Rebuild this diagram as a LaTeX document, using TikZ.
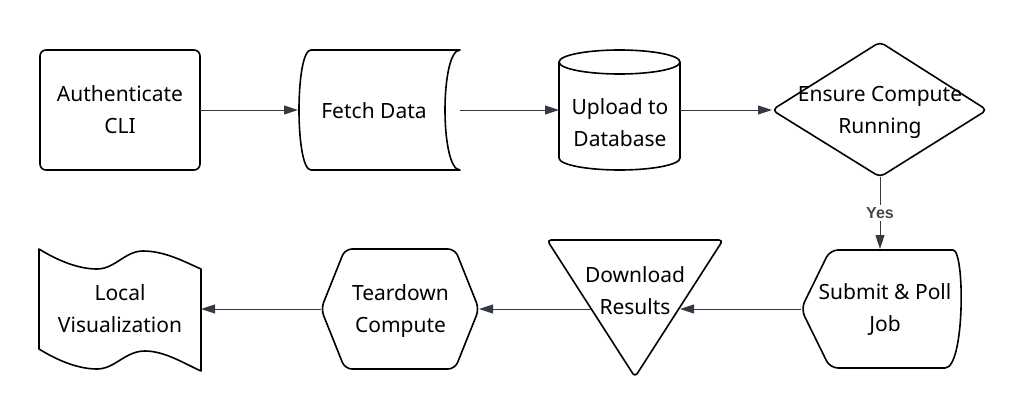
\documentclass[tikz,border=0pt]{standalone}
\usepackage{fontspec}
\setmainfont{Noto Sans}
\newfontfamily\yesfont{Liberation Sans Bold}
\usetikzlibrary{arrows.meta}
\definecolor{edgecol}{RGB}{52,58,68}
\definecolor{lblcol}{RGB}{70,74,80}
\tikzset{
  shapeline/.style={draw=black, line width=1.6pt, line join=round},
  conn/.style={draw=edgecol, line width=1pt, -{Triangle[length=14pt,width=9pt]}},
  lbl/.style={align=center, inner sep=0pt, font=\fontsize{21}{32}\selectfont},
  yeslbl/.style={fill=white, inner sep=2pt, text=lblcol, font=\yesfont\fontsize{16}{18}\selectfont}
}
\begin{document}
\begin{tikzpicture}[x=1pt,y=-1pt]
\useasboundingbox (0,0) rectangle (1030,420);
% Shapes
\draw[shapeline, rounded corners=6pt] (40,50) rectangle (200,170);
\draw[shapeline] (311,50) -- (460,50) .. controls (440,50) and (440,170) .. (460,170)
  -- (311,170) .. controls (295,170) and (295,50) .. (311,50) -- cycle;
\draw[shapeline] (559,62) -- (559,158) arc[start angle=180, end angle=0, x radius=60.5pt, y radius=-12pt] -- (680,62);
\draw[shapeline] (619.5,62) ellipse[x radius=60.5pt, y radius=12pt];
\draw[shapeline, rounded corners=5pt] (772,110) -- (880,42) -- (987,110) -- (880,177) -- cycle;
\draw[shapeline, rounded corners=8pt] (801,309) -- (830,250) -- (945,250) [sharp corners] .. controls (965,250) and (965,368) .. (945,368) [rounded corners=8pt] -- (830,368) -- cycle;
\draw[shapeline, rounded corners=4pt] (547,240) -- (723,240) -- (635,377) -- cycle;
\draw[shapeline, rounded corners=7pt] (321,309) -- (345,249) -- (455,249) -- (479,309) -- (455,369) -- (345,369) -- cycle;
\draw[shapeline] (39,249) .. controls (60,262) and (80,269) .. (97,269)
  .. controls (115,269) and (125,251) .. (143,251)
  .. controls (165,251) and (185,262) .. (201,269)
  -- (201,371)
  .. controls (185,364) and (165,351) .. (145,351)
  .. controls (125,351) and (115,369) .. (97,369)
  .. controls (80,369) and (60,362) .. (39,349) -- cycle;
% Texts
\node[lbl] (auth) at (120,110) {Authenticate\\CLI};
\node[lbl] (fetch) at (374,110.5) {Fetch Data};
\node[lbl] (upload) at (620,122.5) {Upload to\\Database};
\node[lbl] (ensure) at (880,112.5) {Ensure Compute\\Running};
\node[lbl] (submit) at (885,309.5) {Submit \& Poll\\Job};
\node[lbl] (download) at (635,291) {Download\\Results};
\node[lbl] (teardown) at (400.5,311.5) {Teardown\\Compute};
\node[lbl] (localviz) at (120,309) {Local\\Visualization};
% Connector anchors
\coordinate (authE) at (200,110);
\coordinate (fetchW) at (298,110);
\coordinate (fetchE) at (460,110);
\coordinate (uploadW) at (559,110);
\coordinate (uploadE) at (680,110);
\coordinate (ensureW) at (772,110);
\coordinate (ensureS) at (880,177);
\coordinate (submitN) at (880,249);
\coordinate (submitW) at (801,309);
\coordinate (downloadE) at (680,309);
\coordinate (downloadW) at (591,309);
\coordinate (teardownE) at (479,309);
\coordinate (teardownW) at (321,309);
\coordinate (localE) at (201,309);
% Connectors
\draw[conn] (authE) -- (fetchW);
\draw[conn] (fetchE) -- (uploadW);
\draw[conn] (uploadE) -- (ensureW);
\draw[conn] (ensureS) -- node[yeslbl] (yes) {Yes} (submitN);
\draw[conn] (submitW) -- (downloadE);
\draw[conn] (downloadW) -- (teardownE);
\draw[conn] (teardownW) -- (localE);
\end{tikzpicture}
\end{document}
